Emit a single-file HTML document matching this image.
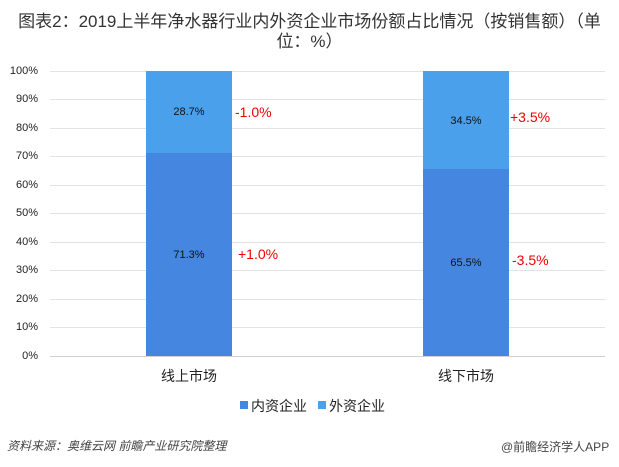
<!DOCTYPE html>
<html><head><meta charset="utf-8"><style>
body{margin:0;width:619px;height:467px;background:#fff;font-family:"Liberation Sans","Noto Sans CJK SC",sans-serif;position:relative;overflow:hidden}
.a{position:absolute;white-space:nowrap}
.yl{position:absolute;left:0;width:38px;text-align:right;font-size:11px;color:#222}
.g{position:absolute;left:50px;width:555px;height:1px;background:#e3e3e3}
.dl{position:absolute;font-size:11px;color:#111;width:86px;text-align:center}
.r{position:absolute;font-size:14px;color:#e00}
</style></head><body>
<div class="a" style="left:0;width:619px;text-align:center;top:12px;font-size:17px;color:#333;line-height:20px;white-space:normal">图表2：2019上半年净水器行业内外资企业市场份额占比情况（按销售额）（单<br>位：%）</div>
<div class="g" style="top:71px"></div><div class="yl" style="top:65px">100%</div>
<div class="g" style="top:99px"></div><div class="yl" style="top:93px">90%</div>
<div class="g" style="top:128px"></div><div class="yl" style="top:122px">80%</div>
<div class="g" style="top:156px"></div><div class="yl" style="top:150px">70%</div>
<div class="g" style="top:185px"></div><div class="yl" style="top:179px">60%</div>
<div class="g" style="top:213px"></div><div class="yl" style="top:207px">50%</div>
<div class="g" style="top:242px"></div><div class="yl" style="top:236px">40%</div>
<div class="g" style="top:270px"></div><div class="yl" style="top:264px">30%</div>
<div class="g" style="top:299px"></div><div class="yl" style="top:293px">20%</div>
<div class="g" style="top:327px"></div><div class="yl" style="top:321px">10%</div>
<div class="yl" style="top:350px">0%</div>
<div class="a" style="left:146px;top:71px;width:86px;height:82px;background:#4aa0ea"></div>
<div class="a" style="left:146px;top:153px;width:86px;height:203px;background:#4486e0"></div>
<div class="a" style="left:423px;top:71px;width:86px;height:98px;background:#4aa0ea"></div>
<div class="a" style="left:423px;top:169px;width:86px;height:187px;background:#4486e0"></div>
<div class="a" style="left:50px;top:356px;width:555px;height:1px;background:#d0d0d0"></div>
<div class="dl" style="left:146px;top:106px">28.7%</div>
<div class="dl" style="left:146px;top:249px">71.3%</div>
<div class="dl" style="left:423px;top:115px">34.5%</div>
<div class="dl" style="left:423px;top:257px">65.5%</div>
<div class="r" style="left:235px;top:104px">-1.0%</div>
<div class="r" style="left:238px;top:246px">+1.0%</div>
<div class="r" style="left:510px;top:109px">+3.5%</div>
<div class="r" style="left:512px;top:252px">-3.5%</div>
<div class="a" style="left:161px;top:366px;font-size:14px;color:#222">线上市场</div>
<div class="a" style="left:438px;top:366px;font-size:14px;color:#222">线下市场</div>
<div class="a" style="left:240px;top:401px;width:8px;height:8px;background:#4486e0"></div>
<div class="a" style="left:251px;top:396px;font-size:14px;color:#222">内资企业</div>
<div class="a" style="left:318px;top:401px;width:8px;height:8px;background:#4aa0ea"></div>
<div class="a" style="left:329px;top:396px;font-size:14px;color:#222">外资企业</div>
<div class="a" style="left:7px;top:437px;font-size:12px;color:#444;font-style:italic">资料来源：奥维云网 前瞻产业研究院整理</div>
<div class="a" style="left:501px;top:438px;font-size:12px;color:#444">@前瞻经济学人APP</div>
</body></html>
